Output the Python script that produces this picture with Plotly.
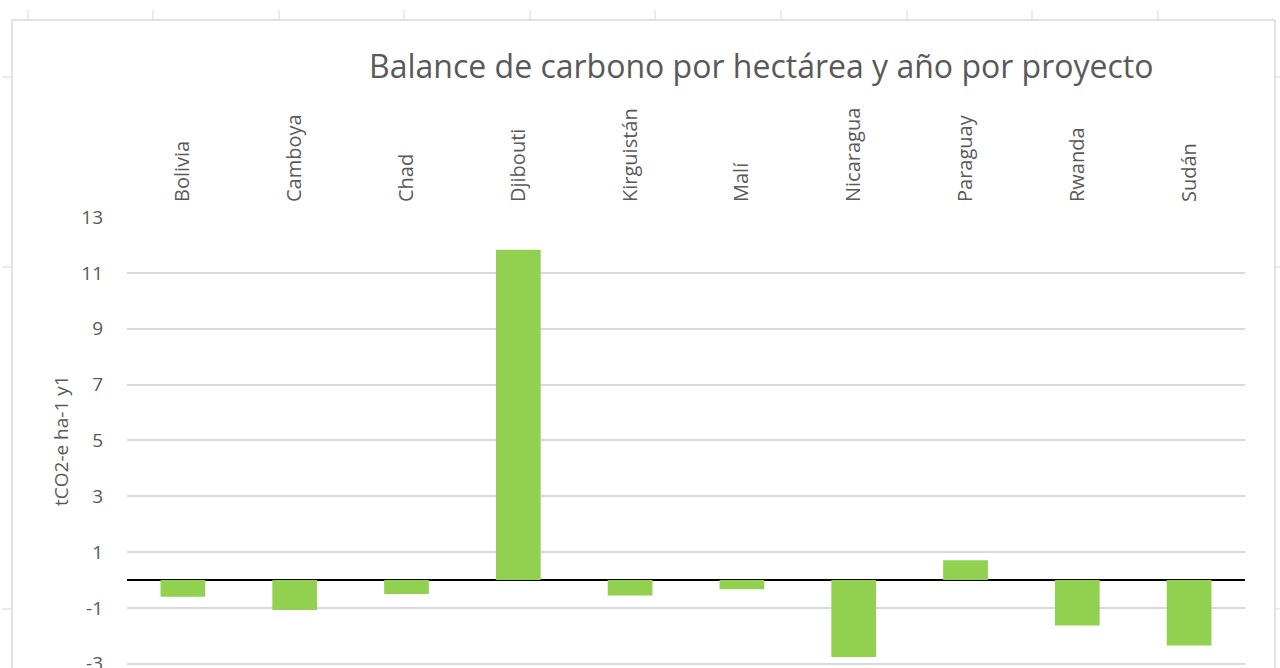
import plotly.graph_objects as go

categories = ["Bolivia", "Camboya", "Chad", "Djibouti", "Kirguistán", "Malí",
              "Nicaragua", "Paraguay", "Rwanda", "Sudán"]
values = [-0.6, -1.07, -0.5, 11.83, -0.55, -0.33, -2.76, 0.71, -1.63, -2.34]
y_ticks = [-3, -1, 1, 3, 5, 7, 9, 11, 13]
y_tick_labels = ["-3", "-1", "1", "3", "5", "7", "9", "11", "13"]
title_text = "Balance de carbono por hectárea y año por proyecto"
y_title = "tCO2-e ha-1 y1"

W, H = 1280, 668
L, R, T, B = 127, 1245, 217, 668


def px(x):
    return (x - L) / (R - L)


def py(y):
    return (B - y) / (B - T)


FONT = "Open Sans"
GREY_TXT = "#595959"
GRID = "#d9d9d9"

fig = go.Figure(go.Bar(x=categories, y=values, marker_color="#92d050",
                       marker_line_width=0, width=0.4, hoverinfo="skip"))

shapes = []
# chart frame
shapes.append(dict(type="line", xref="paper", yref="paper", x0=px(12), x1=px(1275),
                   y0=py(20), y1=py(20), line=dict(color=GRID, width=1.5)))
shapes.append(dict(type="line", xref="paper", yref="paper", x0=px(12), x1=px(12),
                   y0=py(20), y1=py(700), line=dict(color=GRID, width=1.5)))
shapes.append(dict(type="line", xref="paper", yref="paper", x0=px(1275), x1=px(1275),
                   y0=py(20), y1=py(700), line=dict(color=GRID, width=1.5)))
# spreadsheet column marks
for cx in [28, 153, 279, 404, 530, 655, 781, 907, 1032, 1158]:
    shapes.append(dict(type="line", xref="paper", yref="paper", x0=px(cx), x1=px(cx),
                       y0=py(10), y1=py(20), line=dict(color=GRID, width=1)))
# spreadsheet row marks
for ry in [77, 267, 609]:
    shapes.append(dict(type="line", xref="paper", yref="paper", x0=px(2), x1=px(12),
                       y0=py(ry), y1=py(ry), line=dict(color=GRID, width=1)))
    shapes.append(dict(type="line", xref="paper", yref="paper", x0=px(1275), x1=px(1282),
                       y0=py(ry), y1=py(ry), line=dict(color=GRID, width=1)))

fig.update_layout(
    width=W, height=H, autosize=False,
    margin=dict(l=L, r=W - R, t=T, b=H - B, pad=0),
    plot_bgcolor="white", paper_bgcolor="white",
    showlegend=False,
    bargap=0.6,
    shapes=shapes,
    annotations=[
        dict(text=title_text, xref="paper", yref="paper", x=px(761), y=py(65),
             xanchor="center", yanchor="middle", showarrow=False,
             font=dict(family=FONT, size=32, color=GREY_TXT)),
        dict(text=y_title, xref="paper", yref="paper", x=px(61), y=py(441),
             xanchor="center", yanchor="middle", showarrow=False, textangle=-90,
             font=dict(family=FONT, size=19, color=GREY_TXT)),
    ],
)
fig.update_xaxes(side="top", tickangle=-90, showgrid=False, showline=False,
                 ticks="", ticklabelstandoff=14, automargin=False,
                 tickfont=dict(family=FONT, size=20, color=GREY_TXT))
fig.update_yaxes(range=[-3.15, 13], tickvals=y_ticks, ticktext=y_tick_labels,
                 showgrid=True, gridcolor=GRID, gridwidth=1.5,
                 zeroline=True, zerolinecolor="black", zerolinewidth=2,
                 showline=False, ticks="", ticklabelstandoff=23,
                 ticklabeloverflow="allow", automargin=False,
                 tickfont=dict(family=FONT, size=19, color=GREY_TXT))

fig.write_html("out.html", config={"displayModeBar": False},
               post_script="document.body.style.margin='0';document.body.style.overflow='hidden';")
